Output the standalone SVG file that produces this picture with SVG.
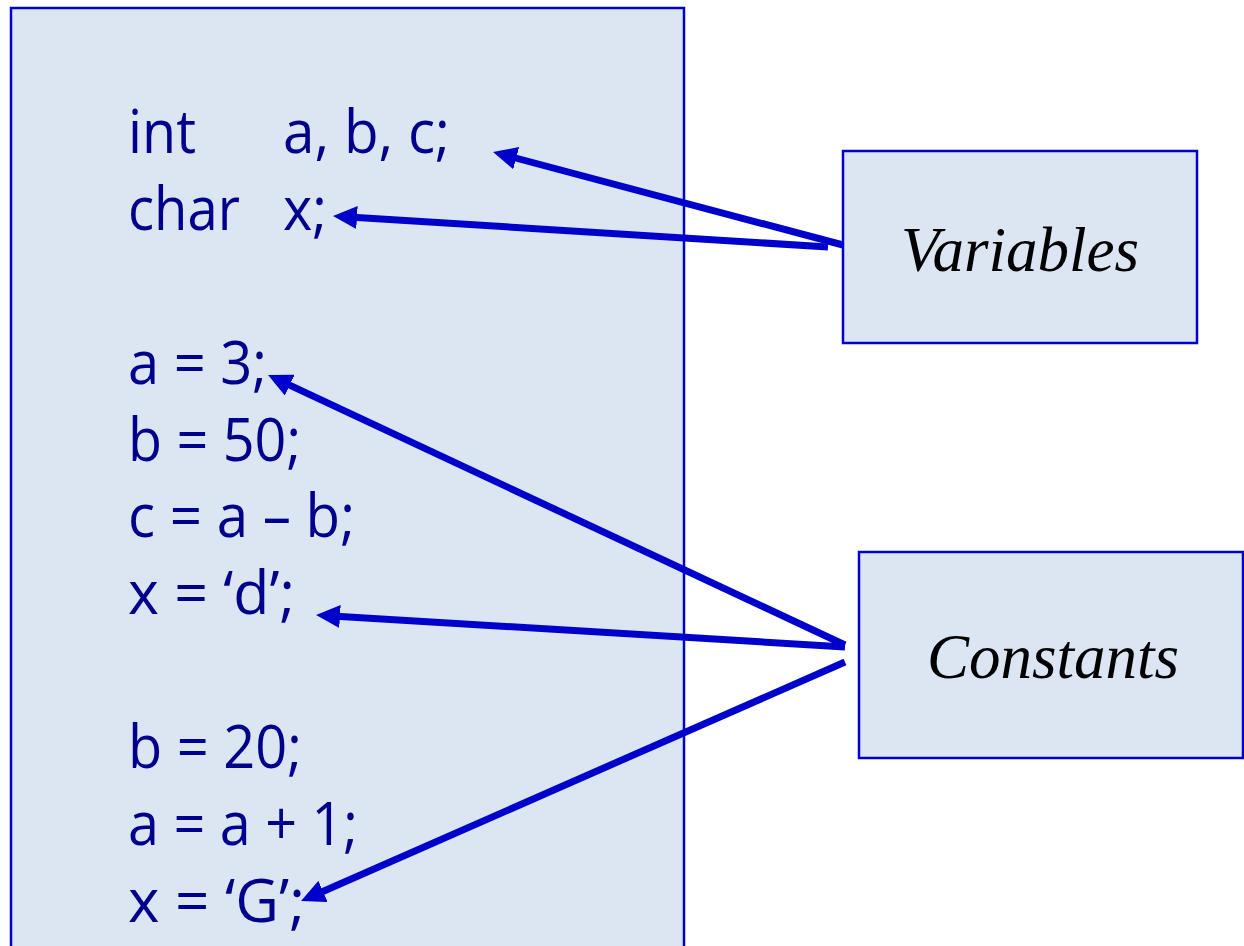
<svg xmlns="http://www.w3.org/2000/svg" width="1244" height="946" viewBox="0 0 1244 946">
  <style>
    .box { fill: #DCE6F2; stroke: #0000CC; stroke-width: 2.5; }
    .code { font-family: "Open Sans", "Liberation Sans", sans-serif; font-size: 61px; fill: #00008C; }
    .label { font-family: "Liberation Serif", "Times New Roman", serif; font-style: italic; font-size: 63px; fill: #000000; text-anchor: middle; }
    .conn { stroke: #0000CC; stroke-width: 7; fill: none; marker-end: url(#arrow); }
  </style>
  <defs>
    <marker id="arrow" markerUnits="userSpaceOnUse" viewBox="0 0 24 23" markerWidth="24" markerHeight="23" refX="12" refY="11.5" orient="auto">
      <path d="M0,0 L24,11.5 L0,23 z" fill="#0000CC"/>
    </marker>
  </defs>
  <rect width="1244" height="946" fill="#FFFFFF"/>

  <g id="code-block">
    <rect class="box" x="11" y="8" width="673" height="960"/>
    <text class="code" x="128" y="153" textLength="68" lengthAdjust="spacingAndGlyphs">int</text>
    <text class="code" x="283" y="153" textLength="167" lengthAdjust="spacingAndGlyphs">a, b, c;</text>
    <text class="code" x="128" y="230" textLength="112" lengthAdjust="spacingAndGlyphs">char</text>
    <text class="code" x="283" y="230" textLength="44" lengthAdjust="spacingAndGlyphs">x;</text>
    <text class="code" x="128" y="384" textLength="139" lengthAdjust="spacingAndGlyphs">a = 3;</text>
    <text class="code" x="128" y="461" textLength="173" lengthAdjust="spacingAndGlyphs">b = 50;</text>
    <text class="code" x="128" y="537" textLength="227" lengthAdjust="spacingAndGlyphs">c = a – b;</text>
    <text class="code" x="128" y="614" textLength="167" lengthAdjust="spacingAndGlyphs">x = ‘d’;</text>
    <text class="code" x="128" y="768" textLength="174" lengthAdjust="spacingAndGlyphs">b = 20;</text>
    <text class="code" x="128" y="845" textLength="230" lengthAdjust="spacingAndGlyphs">a = a + 1;</text>
    <text class="code" x="128" y="922" textLength="177" lengthAdjust="spacingAndGlyphs">x = ‘G’;</text>
  </g>

  <g id="variables">
    <rect class="box" x="843" y="151" width="354" height="192"/>
    <text class="label" x="1020" y="271">Variables</text>
  </g>

  <g id="constants">
    <rect class="box" x="859" y="552" width="384" height="206"/>
    <text class="label" x="1053" y="678">Constants</text>
  </g>

  <g id="connectors">
    <line class="conn" x1="843" y1="245" x2="504.6" y2="155.1"/>
    <line class="conn" x1="828" y1="247" x2="345" y2="216.8"/>
    <line class="conn" x1="845" y1="645" x2="278.9" y2="380.1"/>
    <line class="conn" x1="845" y1="647" x2="328" y2="615.7"/>
    <line class="conn" x1="845" y1="662" x2="312" y2="896.2"/>
  </g>
</svg>
